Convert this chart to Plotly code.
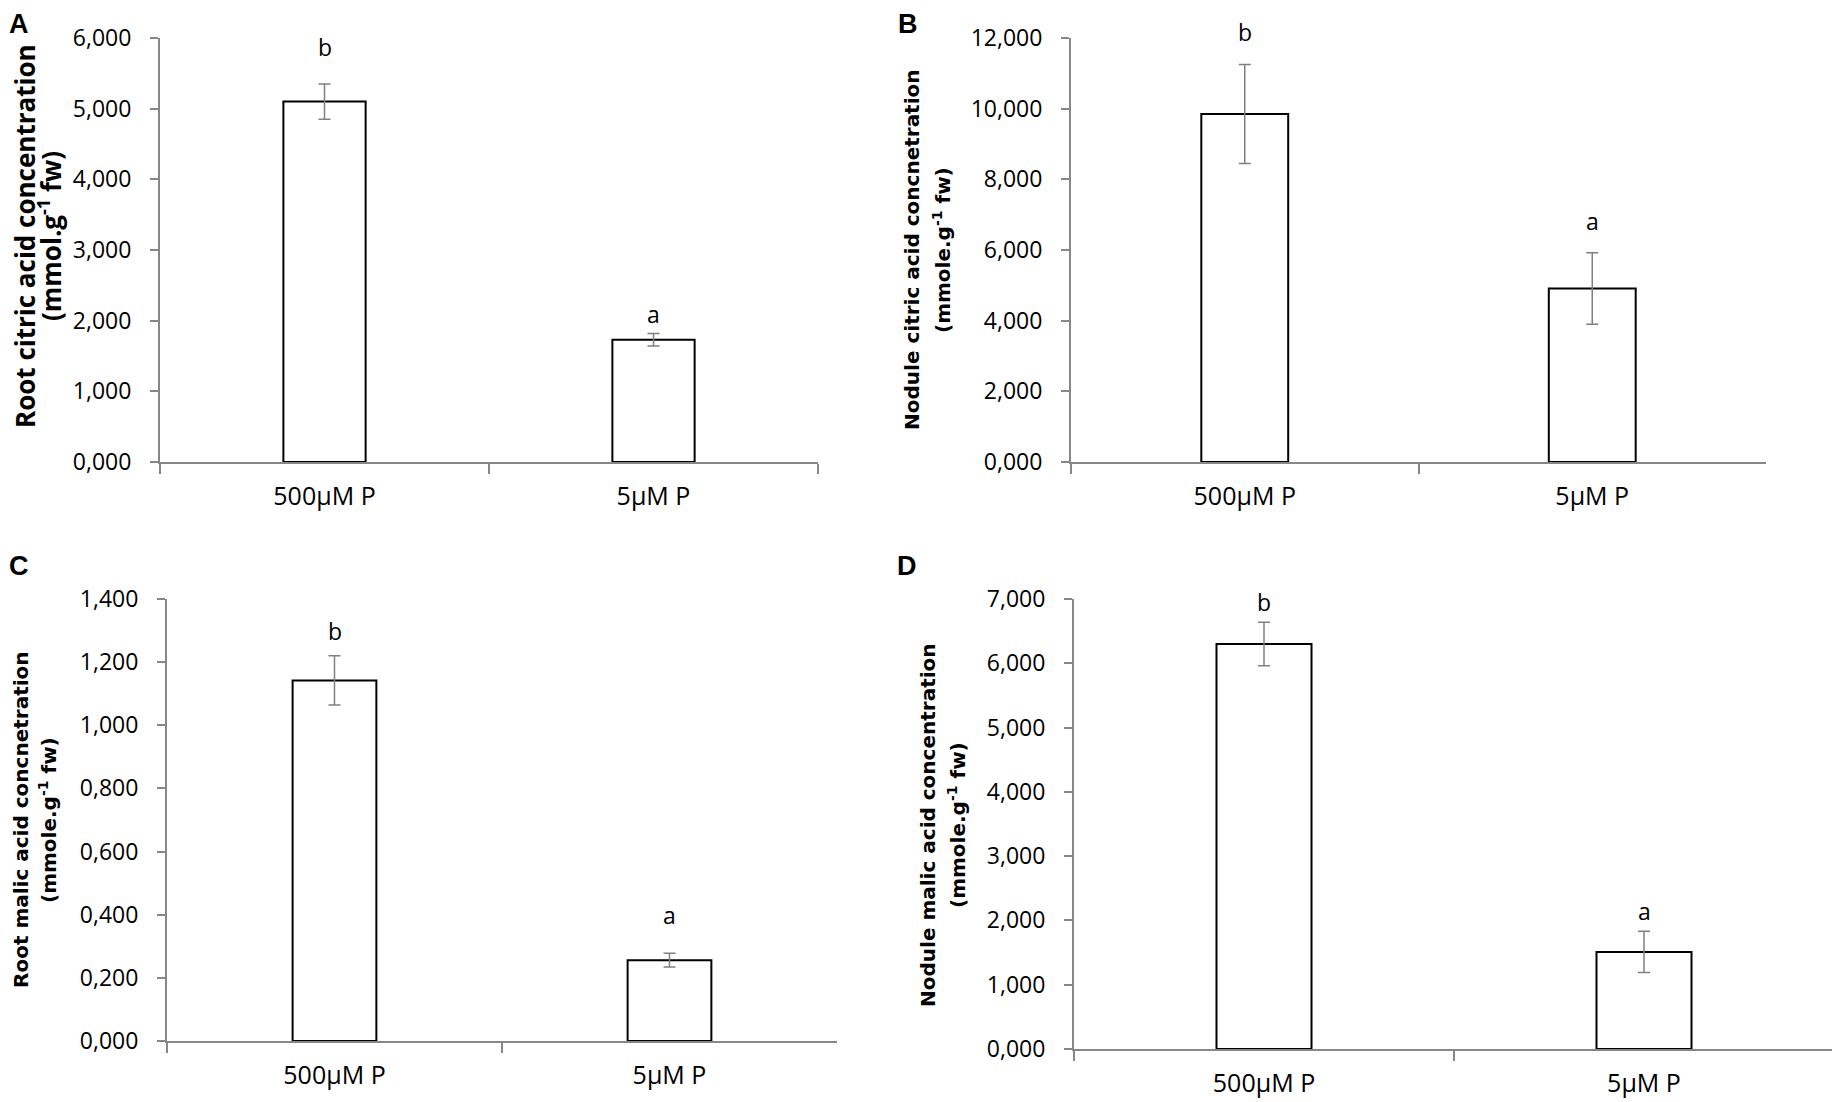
import plotly.graph_objects as go

# treatments (same for all four panels)
treatments = ["500µM P", "5µM P"]

# panel A - root citric acid
root_citric = [5.10, 1.73]
root_citric_err = [0.25, 0.09]
root_citric_letters = ["b", "a"]
root_citric_letter_y = [5.87, 2.09]

# panel B - nodule citric acid
nod_citric = [9.85, 4.91]
nod_citric_err = [1.40, 1.01]
nod_citric_letters = ["b", "a"]
nod_citric_letter_y = [12.17, 6.83]

# panel C - root malic acid
root_malic = [1.142, 0.256]
root_malic_err = [0.078, 0.022]
root_malic_letters = ["b", "a"]
root_malic_letter_y = [1.30, 0.40]

# panel D - nodule malic acid
nod_malic = [6.30, 1.51]
nod_malic_err = [0.34, 0.32]
nod_malic_letters = ["b", "a"]
nod_malic_letter_y = [6.96, 2.15]

W, H = 1840, 1102
PAGE_OFF = 8  # body margin of the html page
AXIS_GREY = "#878787"


def px_x(v):
    return (v - PAGE_OFF) / W


def px_y(v):
    return 1 - (v - PAGE_OFF) / H


# panel boxes in pixels: left, right, top, bottom
panels = [
    dict(tag="A", vals=root_citric, err=root_citric_err, let=root_citric_letters,
         let_y=root_citric_letter_y, ymax=6, dtick=1, box=(160, 818, 38, 462),
         title=["Root citric acid concentration", "(mmol.g<sup>-1</sup> fw)"],
         tfont=dict(family="Open Sans", size=26), tx=(25, 50), ty=236,
         lpos=(8, 8, "left")),
    dict(tag="B", vals=nod_citric, err=nod_citric_err, let=nod_citric_letters,
         let_y=nod_citric_letter_y, ymax=12, dtick=2, box=(1071, 1766, 38, 462),
         title=["Nodule citric acid concnetration", "(mmole.g<sup>-1</sup> fw)"],
         tfont=dict(family="DejaVu Sans", size=20), tx=(912, 942), ty=250,
         lpos=(908, 8, "center")),
    dict(tag="C", vals=root_malic, err=root_malic_err, let=root_malic_letters,
         let_y=root_malic_letter_y, ymax=1.4, dtick=0.2, box=(167, 837, 599, 1041),
         title=["Root malic acid concnetration", "(mmole.g<sup>-1</sup> fw)"],
         tfont=dict(family="DejaVu Sans", size=20), tx=(21, 48), ty=820,
         lpos=(8, 550, "left")),
    dict(tag="D", vals=nod_malic, err=nod_malic_err, let=nod_malic_letters,
         let_y=nod_malic_letter_y, ymax=7, dtick=1, box=(1074, 1834, 599, 1049),
         title=["Nodule malic acid concentration", "(mmole.g<sup>-1</sup> fw)"],
         tfont=dict(family="DejaVu Sans", size=20), tx=(928, 957), ty=825,
         lpos=(907, 550, "center")),
]

fig = go.Figure()
annotations = []

for i, p in enumerate(panels):
    n = "" if i == 0 else str(i + 1)
    fig.add_trace(go.Bar(
        x=treatments, y=p["vals"], width=0.25,
        marker=dict(color="white", line=dict(color="black", width=2)),
        error_y=dict(type="data", array=p["err"], color="#808080",
                     thickness=1.5, width=6),
        xaxis="x" + n, yaxis="y" + n, showlegend=False, hoverinfo="skip",
    ))
    l, r, t, b = p["box"]
    fig.layout["xaxis" + n] = dict(
        domain=[px_x(l), px_x(r)], anchor="y" + n, type="category",
        range=[-0.5, 1.5], showline=True, linecolor=AXIS_GREY, linewidth=2,
        ticks="outside", tickson="boundaries", ticklen=10, tickcolor=AXIS_GREY,
        tickwidth=2, showgrid=False, ticklabelstandoff=11, automargin=False,
        tickfont=dict(family="Open Sans", size=25, color="black"),
    )
    fig.layout["yaxis" + n] = dict(
        domain=[px_y(b), px_y(t)], anchor="x" + n, range=[0, p["ymax"]],
        dtick=p["dtick"], tick0=0, tickformat=".3f", showline=True,
        linecolor=AXIS_GREY, linewidth=2, ticks="outside", ticklen=8,
        tickcolor=AXIS_GREY, tickwidth=2, showgrid=False, zeroline=False,
        ticklabelstandoff=14, automargin=False,
        tickfont=dict(family="Open Sans", size=23, color="black"),
    )
    # significance letters, placed on the axis domain so they may sit above the top
    for cat, letter, ly in zip(treatments, p["let"], p["let_y"]):
        annotations.append(dict(
            x=cat, y=ly / p["ymax"], xref="x" + n, yref="y" + n + " domain",
            text=letter, showarrow=False, yanchor="middle",
            font=dict(family="Open Sans", size=23, color="black"),
        ))
    # y axis title, one annotation per line
    for line, tx in zip(p["title"], p["tx"]):
        annotations.append(dict(
            x=px_x(tx), y=px_y(p["ty"]), xref="paper", yref="paper",
            text="<b>" + line + "</b>", textangle=-90, showarrow=False,
            xanchor="center", yanchor="middle", borderpad=0,
            font=dict(color="black", **p["tfont"]),
        ))
    # panel letter
    lx, ly, lanchor = p["lpos"]
    annotations.append(dict(
        x=max(px_x(lx), 0), y=min(px_y(ly), 1), xref="paper", yref="paper",
        text="<b>" + p["tag"] + "</b>", showarrow=False,
        xanchor=lanchor, yanchor="top", borderpad=0,
        font=dict(family="Liberation Sans", size=27, color="black"),
    ))

fig.update_layout(
    width=W, height=H, margin=dict(l=0, r=0, t=0, b=0, autoexpand=False),
    paper_bgcolor="white", plot_bgcolor="white",
    separators=",.", annotations=annotations,
)

fig.write_html("out.html")
